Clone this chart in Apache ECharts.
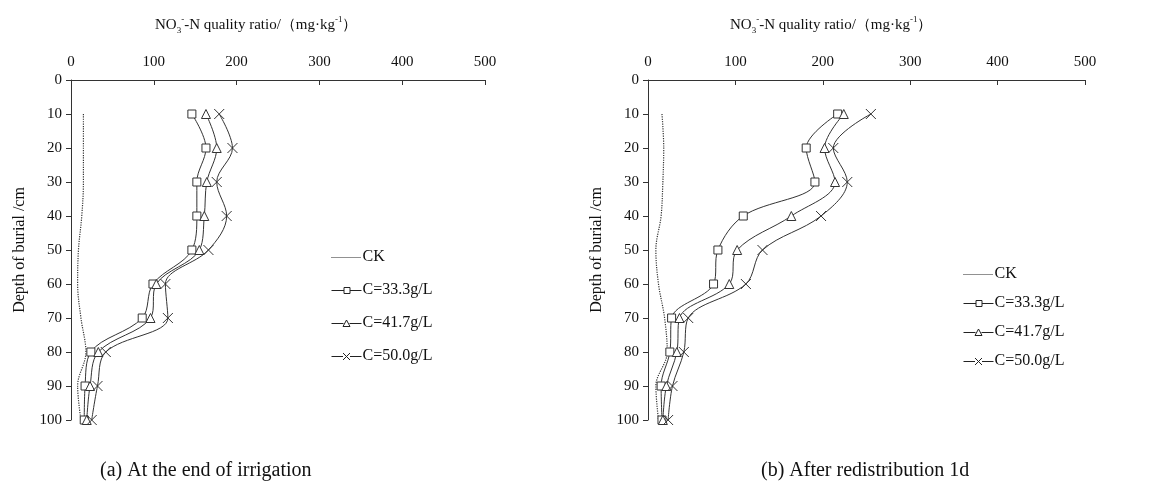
<!DOCTYPE html>
<html><head><meta charset="utf-8">
<script src="https://cdn.jsdelivr.net/npm/echarts@6/dist/echarts.min.js"></script>
<style>html,body{margin:0;padding:0;background:#fff}#c{width:1149px;height:492px}</style>
</head><body><div id="c"></div>
<script>
const depths = [10, 20, 30, 40, 50, 60, 70, 80, 90, 100];
const xTicks = [0, 100, 200, 300, 400, 500];
const seriesNames = ['CK', 'C=33.3g/L', 'C=41.7g/L', 'C=50.0g/L'];
// (a) At the end of irrigation
const ckA  = [15, 15, 15, 13, 9, 8, 12, 18, 8, 12];
const sqA  = [146, 163, 152, 152, 146, 99, 86, 24, 17, 16];
const triA = [163, 176, 164, 161, 155, 103, 96, 33, 23, 19];
const xA   = [179, 195, 176, 188, 166, 114, 117, 42, 32, 25];
// (b) After redistribution 1d
const ckB  = [16, 18, 17, 15, 9, 12, 19, 22, 9, 12];
const sqB  = [217, 181, 191, 109, 80, 75, 27, 25, 15, 16];
const triB = [224, 202, 214, 164, 102, 93, 36, 33, 21, 17];
const xB   = [255, 212, 228, 198, 131, 112, 46, 41, 28, 23];

const FONT = 'Liberation Serif';
const C = '#333';
const chart = echarts.init(document.getElementById('c'));
const pts = arr => arr.map((v, i) => [v, depths[i]]);
const symX = 'path://M0,0L10,10M10,0L0,10';
const symTri = 'path://M5,0L10,9L0,9Z';
const symSq = 'path://M0,0L10,0L10,10L0,10Z';

// legend icons: line + marker, bbox fixed to 30x10 via zero-length corner moves
const BOX = 'M0,0L0,0M30,10L30,10';
let dots = '';
for (let x = 0; x < 30; x += 2) dots += 'M' + x + ',5.5L' + (x + 1) + ',5.5';
const legIcons = [
  'path://' + BOX + dots,
  'path://' + BOX + 'M0,5.5L12.5,5.5M18.5,5.5L30,5.5M12.5,2.5L18.5,2.5L18.5,8.5L12.5,8.5Z',
  'path://' + BOX + 'M0,5.5L12,5.5M18,5.5L30,5.5M15,2L18.5,8.5L11.5,8.5Z',
  'path://' + BOX + 'M0,5.5L11.5,5.5M18.5,5.5L30,5.5M11.5,2L18.5,9M18.5,2L11.5,9'
];

function mk(idx, arrs) {
  const syms = ['none', symSq, symTri, symX];
  const sizes = [0, 8, 9, 10];
  return arrs.map((a, k) => ({
    name: seriesNames[k], type: 'line', xAxisIndex: idx, yAxisIndex: idx,
    data: pts(a), smooth: 0.35, symbol: syms[k], symbolSize: sizes[k], showSymbol: k > 0,
    lineStyle: { color: C, width: k === 0 ? 1.2 : 1, type: k === 0 ? 'dotted' : 'solid' },
    itemStyle: { color: '#fff', borderColor: C, borderWidth: 1 },
    emphasis: { disabled: true }, animation: false, z: 2 + k
  }));
}

const titleRich = {
  t: { fontFamily: FONT, fontSize: 15, fontWeight: 'normal', color: '#111', lineHeight: 20 },
  sub: { fontFamily: FONT, fontSize: 9, fontWeight: 'normal', color: '#111', lineHeight: 10, verticalAlign: 'bottom' },
  sup: { fontFamily: FONT, fontSize: 9, fontWeight: 'normal', color: '#111', lineHeight: 10, verticalAlign: 'top' }
};
const titleText = '{t|NO}{sub|3}{sup|-}{t|-N quality ratio/（mg·kg}{sup|-1}{t|）}';

function xAx(gi) {
  return {
    gridIndex: gi, type: 'value', position: 'top', min: 0, max: 500, interval: 100,
    axisLine: { lineStyle: { color: C, width: 1 } },
    axisTick: { inside: true, length: 5, lineStyle: { color: C } },
    axisLabel: { fontFamily: FONT, fontSize: 15, color: '#111', margin: 10 },
    splitLine: { show: false }
  };
}
function yAx(gi) {
  return {
    gridIndex: gi, type: 'value', inverse: true, min: 0, max: 100, interval: 10,
    name: 'Depth of burial /cm', nameLocation: 'middle', nameGap: 43,
    nameTextStyle: { fontFamily: FONT, fontSize: 16, color: '#111' },
    axisLine: { show: true, lineStyle: { color: C, width: 1 } },
    axisTick: { show: true, length: 5, lineStyle: { color: C } },
    axisLabel: { fontFamily: FONT, fontSize: 15, color: '#111', margin: 9 },
    splitLine: { show: false }
  };
}
function leg(left, top, gap) {
  return {
    data: seriesNames.map((n, i) => ({ name: n, icon: legIcons[i] })),
    orient: 'vertical', left, top, itemGap: gap, itemWidth: 30, itemHeight: 10,
    itemStyle: { color: '#fff', borderColor: '#222', borderWidth: 1 },
    lineStyle: { width: 0 },
    textStyle: { fontFamily: FONT, fontSize: 16, color: '#111', padding: [0, 0, 0, -4] },
    selectedMode: false
  };
}

chart.setOption({
  backgroundColor: '#fff',
  animation: false,
  title: [
    { text: titleText, left: 150, top: 10, textStyle: { fontWeight: 'normal', rich: titleRich } },
    { text: titleText, left: 725, top: 10, textStyle: { fontWeight: 'normal', rich: titleRich } },
    { text: '(a) At the end of irrigation', left: 95, top: 456, textStyle: { fontFamily: FONT, fontSize: 20, fontWeight: 'normal', color: '#111' } },
    { text: '(b) After redistribution 1d', left: 756, top: 456, textStyle: { fontFamily: FONT, fontSize: 20, fontWeight: 'normal', color: '#111' } }
  ],
  grid: [
    { left: 71, right: 664, top: 80, bottom: 72 },
    { left: 648, right: 64, top: 80, bottom: 72 }
  ],
  xAxis: [xAx(0), xAx(1)],
  yAxis: [yAx(0), yAx(1)],
  legend: [leg(326, 244, 17), leg(958, 261, 13)],
  series: [...mk(0, [ckA, sqA, triA, xA]), ...mk(1, [ckB, sqB, triB, xB])]
});
</script></body></html>
